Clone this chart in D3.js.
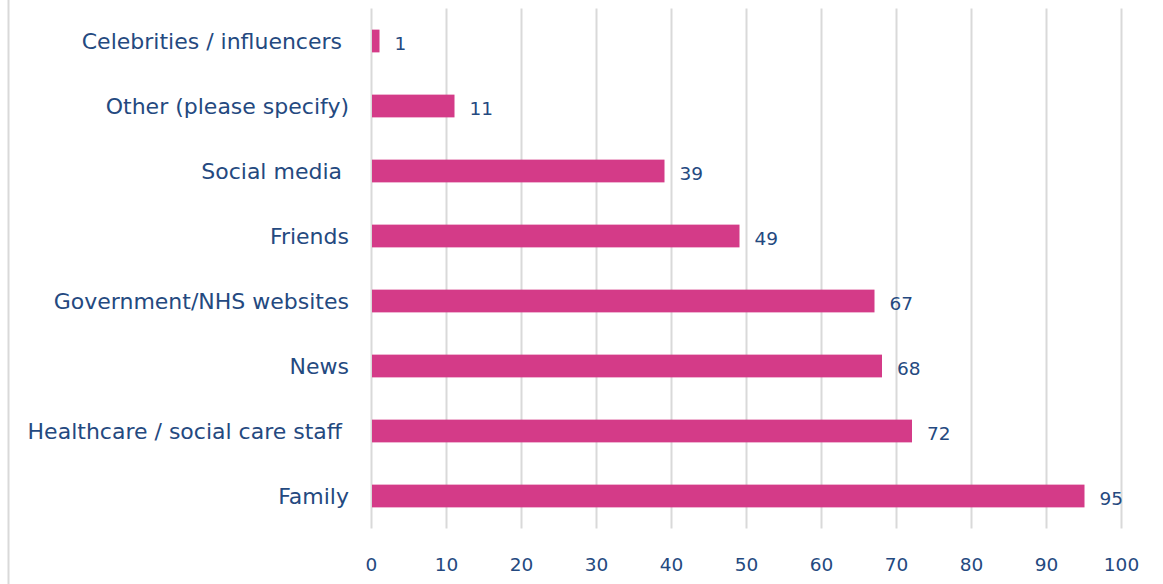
<!DOCTYPE html>
<html><head><meta charset="utf-8">
<script src="https://cdn.jsdelivr.net/npm/d3@7"></script>
<style>body{margin:0;background:#fff}svg{display:block}text{white-space:pre}</style>
</head><body>
<svg id="c" width="1163" height="584"></svg>
<script>
const categories = ["Celebrities / influencers ","Other (please specify)","Social media ","Friends","Government/NHS websites","News","Healthcare / social care staff ","Family"];
const values = [1,11,39,49,67,68,72,95];
const xTicks = [0,10,20,30,40,50,60,70,80,90,100];

const svg = d3.select("#c");
const font = "DejaVu Sans, sans-serif";
const textColor = "#24497f";
const barColor = "#d43b88";
const x = d3.scaleLinear().domain([0,100]).range([371,1121]);
const y = d3.scaleBand().domain(categories).range([8.5,528.5]).paddingInner(0.65).paddingOuter(0.325);

svg.append("line").attr("x1",8.5).attr("x2",8.5).attr("y1",0).attr("y2",584).attr("stroke","#d9d9d9").attr("stroke-width",2);

const grid = svg.append("g").attr("transform","translate(0,528.5)")
  .call(d3.axisBottom(x).tickValues(xTicks).tickSize(-520).tickFormat(d3.format("d")));
grid.select(".domain").remove();
grid.selectAll(".tick line").attr("stroke","#d9d9d9").attr("stroke-width",2);
grid.selectAll(".tick text").attr("y",36).attr("dy","0.35em").attr("fill",textColor)
  .style("font-family",font).style("font-size","18.5px");

svg.append("g").selectAll("rect").data(values).join("rect")
  .attr("x",x(0)+1).attr("y",(d,i)=>y(categories[i]))
  .attr("width",d=>x(d)-x(0)).attr("height",y.bandwidth()).attr("fill",barColor);

svg.append("g").selectAll("text").data(values).join("text")
  .attr("x",d=>x(d)+16).attr("y",(d,i)=>y(categories[i])+y.bandwidth()/2+3)
  .attr("dy","0.35em").attr("fill",textColor).style("font-family",font).style("font-size","18.5px")
  .text(d=>d);

svg.append("g").selectAll("text").data(categories).join("text")
  .attr("x",349).attr("y",d=>y(d)+y.bandwidth()/2).attr("dy","0.35em")
  .attr("text-anchor","end").attr("fill",textColor).style("font-family",font).style("font-size","22px")
  .text(d=>d);
</script>
</body></html>
